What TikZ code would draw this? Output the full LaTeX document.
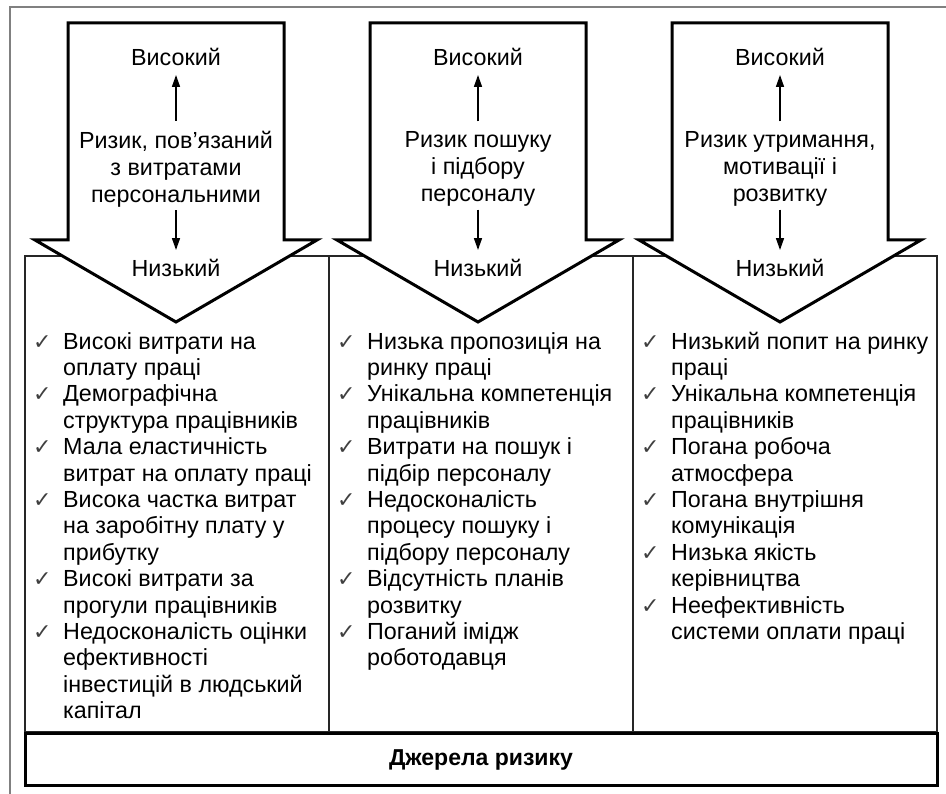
\documentclass[tikz,border=0pt]{standalone}
\usepackage{fontspec}
\setmainfont{Liberation Sans}
\newfontfamily\symfont{DejaVu Sans}
\usetikzlibrary{arrows.meta,positioning,calc}

\newcommand{\chk}{\makebox[30pt][l]{\color{black!75}\symfont\fontsize{22}{22}\selectfont ✓}}

\begin{document}
\begin{tikzpicture}[x=1pt, y=-1pt, font=\fontsize{23.3}{26.4}\selectfont]

% Define styles
\tikzstyle{column} = [rectangle, draw=black!85, line width=1.5pt, minimum width=304pt, minimum height=476pt, inner sep=0pt, outer sep=0pt]
\tikzstyle{band} = [rectangle, draw=black, line width=3pt, minimum width=912pt, minimum height=52pt, font=\fontsize{23}{26.4}\selectfont\bfseries]
\tikzstyle{bigarrow} = [draw=black, fill=white, line width=3pt, line join=miter]
\tikzstyle{level} = [inner sep=0pt]
\tikzstyle{risk} = [inner sep=0pt, align=center, font=\fontsize{23.3}{27}\selectfont]
\tikzstyle{srclist} = [inner sep=0pt]
\tikzstyle{arrow} = [line width=1.5pt, -{Triangle[length=12pt, width=8pt]}]

\useasboundingbox (0,0) rectangle (946,794);

% Outer frame
\draw [gray, line width=2pt] (10,794) -- (10,7) -- (946,7);

% Columns
\node (col1) [column, anchor=north west] at (25,256) {};
\node (col2) [column, right=0pt of col1] {};
\node (col3) [column, right=0pt of col2] {};

% Sources of risk
\node (src) [band, below=0pt of col2] {Джерела ризику};

% Block arrows
\draw [bigarrow] (68,23) -- (284,23) -- (284,240) -- (317,240) -- (176,322) -- (35,240) -- (68,240) -- cycle;
\draw [bigarrow] (370,23) -- (586,23) -- (586,240) -- (619,240) -- (478,322) -- (337,240) -- (370,240) -- cycle;
\draw [bigarrow] (672,23) -- (888,23) -- (888,240) -- (921,240) -- (780,322) -- (639,240) -- (672,240) -- cycle;

% Arrow 1
\node (hi1) [level] at (176,57) {Високий};
\node (risk1) [risk] at (176,169) {Ризик, пов’язаний\\з витратами\\персональними};
\node (lo1) [level] at (176,268) {Низький};
\draw [arrow, shorten <=10pt, shorten >=9pt] (risk1) -- (hi1);
\draw [arrow, shorten <=3pt, shorten >=9pt] (risk1) -- (lo1);

% Arrow 2
\node (hi2) [level] at (478,57) {Високий};
\node (risk2) [risk] at (478,169) {Ризик пошуку\\і підбору\\персоналу};
\node (lo2) [level] at (478,268) {Низький};
\draw [arrow, shorten <=10pt, shorten >=9pt] (risk2) -- (hi2);
\draw [arrow, shorten <=3pt, shorten >=9pt] (risk2) -- (lo2);

% Arrow 3
\node (hi3) [level] at (780,57) {Високий};
\node (risk3) [risk] at (780,169) {Ризик утримання,\\мотивації і\\розвитку};
\node (lo3) [level] at (780,268) {Низький};
\draw [arrow, shorten <=10pt, shorten >=9pt] (risk3) -- (hi3);
\draw [arrow, shorten <=3pt, shorten >=9pt] (risk3) -- (lo3);

% Lists of sources
\node (list1) [srclist, below right=74.5pt and 8pt of col1.north west] {%
\begin{tabular}{@{}l@{}l@{}}
\chk & Високі витрати на\\
     & оплату праці\\
\chk & Демографічна\\
     & структура працівників\\
\chk & Мала еластичність\\
     & витрат на оплату праці\\
\chk & Висока частка витрат\\
     & на заробітну плату у\\
     & прибутку\\
\chk & Високі витрати за\\
     & прогули працівників\\
\chk & Недосконалість оцінки\\
     & ефективності\\
     & інвестицій в людський\\
     & капітал
\end{tabular}};

\node (list2) [srclist, below right=74.5pt and 8pt of col2.north west] {%
\begin{tabular}{@{}l@{}l@{}}
\chk & Низька пропозиція на\\
     & ринку праці\\
\chk & Унікальна компетенція\\
     & працівників\\
\chk & Витрати на пошук і\\
     & підбір персоналу\\
\chk & Недосконалість\\
     & процесу пошуку і\\
     & підбору персоналу\\
\chk & Відсутність планів\\
     & розвитку\\
\chk & Поганий імідж\\
     & роботодавця
\end{tabular}};

\node (list3) [srclist, below right=74.5pt and 8pt of col3.north west] {%
\begin{tabular}{@{}l@{}l@{}}
\chk & Низький попит на ринку\\
     & праці\\
\chk & Унікальна компетенція\\
     & працівників\\
\chk & Погана робоча\\
     & атмосфера\\
\chk & Погана внутрішня\\
     & комунікація\\
\chk & Низька якість\\
     & керівництва\\
\chk & Неефективність\\
     & системи оплати праці
\end{tabular}};

\end{tikzpicture}
\end{document}
